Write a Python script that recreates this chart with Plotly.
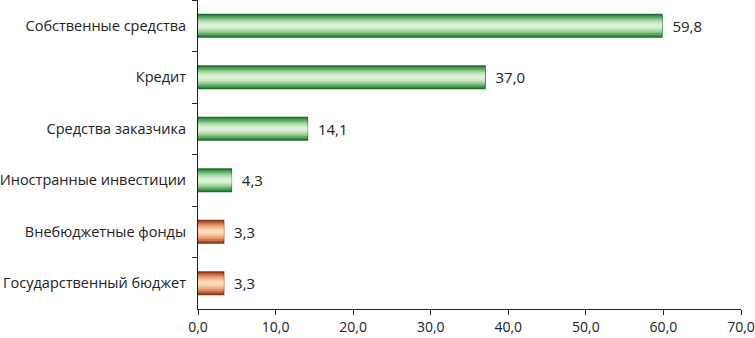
import plotly.graph_objects as go

categories = ["Собственные средства", "Кредит", "Средства заказчика",
              "Иностранные инвестиции", "Внебюджетные фонды", "Государственный бюджет"]
values = [59.8, 37.0, 14.1, 4.3, 3.3, 3.3]
groups = ["g", "g", "g", "g", "o", "o"]
x_ticks = [0, 10, 20, 30, 40, 50, 60, 70]

green_shades = ["#3a9448", "#5aa960", "#86c485", "#acd9a8", "#c9e9c2", "#dcf2d6"]
orange_shades = ["#b0542e", "#cc7048", "#e4966a", "#f0b086", "#f7c9a2", "#fbd9b9"]
green_edge = "#1f6e2e"
orange_edge = "#8a3219"
widths = [0.44, 0.36, 0.29, 0.22, 0.15, 0.08]

fig = go.Figure()
for i, w in enumerate(widths):
    cols = [green_shades[i] if g == "g" else orange_shades[i] for g in groups]
    edges = [green_edge if g == "g" else orange_edge for g in groups]
    fig.add_trace(go.Bar(
        y=categories, x=values, orientation="h", width=w,
        marker=dict(color=cols,
                    line=dict(width=1.5 if i == 0 else 0, color=edges)),
        text=["\u2002" + f"{v:.1f}".replace(".", ",") for v in values] if i == 0 else None,
        textposition="outside" if i == 0 else "none",
        textfont=dict(family="Open Sans", size=15, color="#222"),
        cliponaxis=False, hoverinfo="skip", showlegend=False,
    ))

fig.update_layout(
    barmode="overlay",
    width=755, height=338,
    margin=dict(l=198, r=14, t=0, b=29, autoexpand=False),
    paper_bgcolor="white", plot_bgcolor="white",
    font=dict(family="Open Sans", size=13, color="#222"),
    separators=", ",
    xaxis=dict(range=[0, 70], tickvals=x_ticks, tickformat=".1f", automargin=False,
               showgrid=False, zeroline=False, showline=True, linecolor="#222",
               linewidth=1, ticks="outside", ticklen=5, tickcolor="#222",
               tickfont=dict(size=14)),
    yaxis=dict(categoryorder="array", categoryarray=categories, autorange="reversed",
               automargin=False,
               showgrid=False, showline=True, linecolor="#222", linewidth=1,
               ticks="outside", ticklen=5, tickcolor="#222", tickson="boundaries",
               ticklabelstandoff=8,
               tickfont=dict(size=14.5)),
)

fig.write_html("out.html", config={"displayModeBar": False},
               post_script="document.body.style.margin='0';")
